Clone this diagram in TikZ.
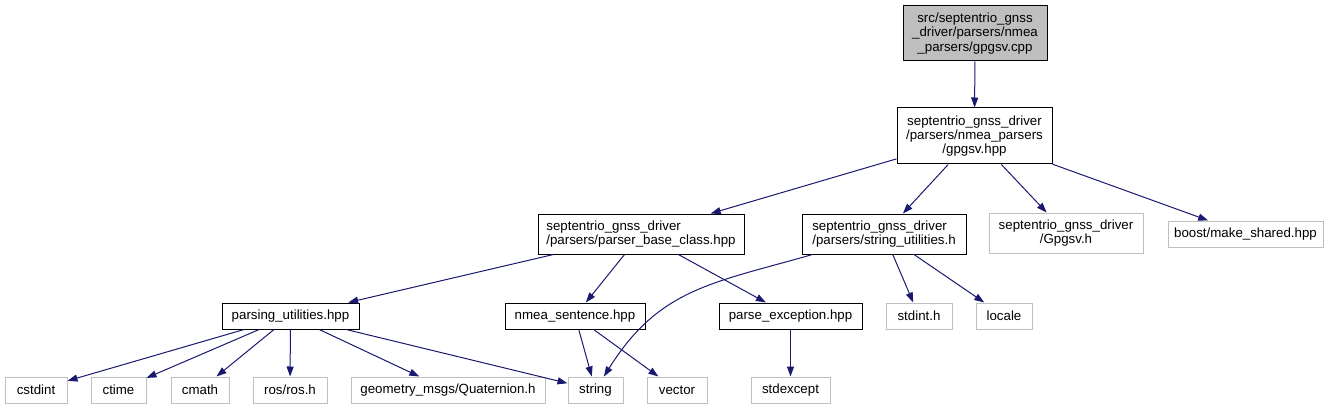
\documentclass[tikz,border=0pt]{standalone}
\usepackage{fontspec}
\setmainfont{Liberation Sans}
\usetikzlibrary{arrows.meta}
\definecolor{edgeblue}{HTML}{191970}
\definecolor{extgray}{HTML}{BFBFBF}
\definecolor{topfill}{HTML}{BFBFBF}
\newcommand\dgfont{\fontsize{13.3}{14.3}\selectfont}
\tikzset{
  box/.style={draw=black, line width=1pt, inner sep=0pt, font=\dgfont, text=black, anchor=center},
  ext/.style={box, draw=extgray},
  edge/.style={draw=edgeblue, line width=1pt, -{Triangle[length=10pt,width=7pt]}},
}
\begin{document}
\begin{tikzpicture}[x=1pt,y=-1pt]
\path[use as bounding box] (0,0) rectangle (1334,409);
% level 0
\node[box, fill=topfill, minimum width=144, minimum height=55, align=center] (top) at (975,33.5)
  {src/septentrio\_gnss\\\_driver/parsers/nmea\\\_parsers/gpgsv.cpp};
% level 1
\node[box, minimum width=155, minimum height=56, align=center] (gh) at (974.5,136)
  {septentrio\_gnss\_driver\\/parsers/nmea\_parsers\\/gpgsv.hpp};
% level 2
\node[box, minimum width=206, minimum height=40, align=left] (pb) at (641,234)
  {septentrio\_gnss\_driver\\/parsers/parser\_base\_class.hpp};
\node[box, minimum width=164, minimum height=40, align=left] (su) at (884,234)
  {septentrio\_gnss\_driver\\/parsers/string\_utilities.h};
\node[ext, minimum width=154, minimum height=40, align=center] (gv) at (1066,233)
  {septentrio\_gnss\_driver\\/Gpgsv.h};
\node[ext, minimum width=155, minimum height=26] (bm) at (1245.5,234) {boost/make\_shared.hpp};
% level 3
\node[box, minimum width=137, minimum height=26] (pu) at (290.5,316) {parsing\_utilities.hpp};
\node[box, minimum width=140, minimum height=26] (ns) at (575,316) {nmea\_sentence.hpp};
\node[box, minimum width=143, minimum height=26] (pe) at (790.5,316) {parse\_exception.hpp};
\node[ext, minimum width=66, minimum height=26] (si) at (919,316) {stdint.h};
\node[ext, minimum width=56, minimum height=26] (lo) at (1004,316) {locale};
% level 4
\node[ext, minimum width=62, minimum height=26] (cs) at (36,390) {cstdint};
\node[ext, minimum width=55, minimum height=26] (ct) at (118.5,390) {ctime};
\node[ext, minimum width=58, minimum height=26] (cm) at (200,390) {cmath};
\node[ext, minimum width=74, minimum height=26] (ro) at (290,390) {ros/ros.h};
\node[ext, minimum width=194, minimum height=26] (gq) at (448,390) {geometry\_msgs/Quaternion.h};
\node[ext, minimum width=55, minimum height=26] (st) at (595.5,390) {string};
\node[ext, minimum width=60, minimum height=26] (ve) at (677,390) {vector};
\node[ext, minimum width=79, minimum height=26] (se) at (790.5,390) {stdexcept};
% edges
\draw[edge] (top) -- (gh);
\draw[edge] (gh) -- (pb);
\draw[edge] (gh) -- (su);
\draw[edge] (gh) -- (gv);
\draw[edge] (gh) -- (bm);
\draw[edge] (pb) -- (pu);
\draw[edge] (pb) -- (ns);
\draw[edge] (pb) -- (pe);
\draw[edge] (su) to[out=196,in=58,looseness=1.1] (st);
\draw[edge] (su) -- (si);
\draw[edge] (su) -- (lo);
\draw[edge] (pu) -- (cs);
\draw[edge] (pu) -- (ct);
\draw[edge] (pu) -- (cm);
\draw[edge] (pu) -- (ro);
\draw[edge] (pu) -- (gq);
\draw[edge] (pu) -- (st);
\draw[edge] (ns) -- (st);
\draw[edge] (ns) -- (ve);
\draw[edge] (pe) -- (se);
\end{tikzpicture}
\end{document}
